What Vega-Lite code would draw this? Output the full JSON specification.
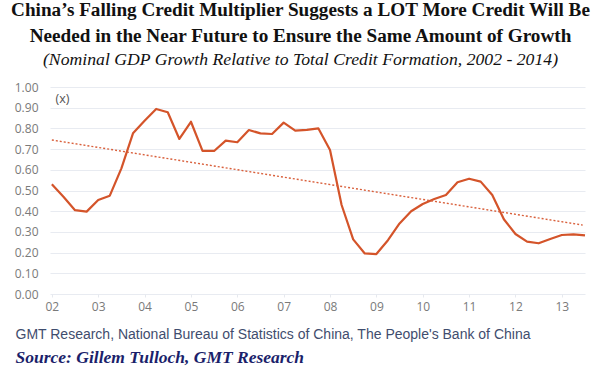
{
  "$schema": "https://vega.github.io/schema/vega-lite/v6.json",
  "width": 535,
  "height": 207,
  "autosize": {"type": "none"},
  "padding": {"left": 50, "top": 87, "right": 15, "bottom": 80},
  "background": "white",
  "title": {
    "text": ["China’s Falling Credit Multiplier Suggests a LOT More Credit Will Be", "Needed in the Near Future to Ensure the Same Amount of Growth"],
    "subtitle": "(Nominal GDP Growth Relative to Total Credit Formation, 2002 - 2014)",
    "anchor": "middle",
    "dx": -17,
    "font": "Liberation Serif",
    "fontSize": 19.2,
    "fontWeight": "bold",
    "lineHeight": 26,
    "color": "#111111",
    "subtitleFont": "Liberation Serif",
    "subtitleFontStyle": "italic",
    "subtitleFontSize": 17.7,
    "subtitleColor": "#111111",
    "subtitlePadding": 5,
    "offset": 12
  },
  "config": {
    "view": {"stroke": null},
    "axis": {"labelFont": "Open Sans", "labelColor": "#7a7a7a", "labelFontSize": 12},
    "axisY": {"labelOverlap": false}
  },
  "data": {
    "values": [
      {"t": 2002.0, "v": 0.53},
      {"t": 2002.25, "v": 0.47},
      {"t": 2002.5, "v": 0.405},
      {"t": 2002.75, "v": 0.398},
      {"t": 2003.0, "v": 0.454},
      {"t": 2003.25, "v": 0.475},
      {"t": 2003.5, "v": 0.607},
      {"t": 2003.75, "v": 0.776},
      {"t": 2004.0, "v": 0.837},
      {"t": 2004.25, "v": 0.894},
      {"t": 2004.5, "v": 0.878},
      {"t": 2004.75, "v": 0.749},
      {"t": 2005.0, "v": 0.832},
      {"t": 2005.25, "v": 0.691},
      {"t": 2005.5, "v": 0.691},
      {"t": 2005.75, "v": 0.741},
      {"t": 2006.0, "v": 0.733},
      {"t": 2006.25, "v": 0.792},
      {"t": 2006.5, "v": 0.776},
      {"t": 2006.75, "v": 0.773},
      {"t": 2007.0, "v": 0.828},
      {"t": 2007.25, "v": 0.789},
      {"t": 2007.5, "v": 0.793},
      {"t": 2007.75, "v": 0.80},
      {"t": 2008.0, "v": 0.696},
      {"t": 2008.25, "v": 0.43},
      {"t": 2008.5, "v": 0.264},
      {"t": 2008.75, "v": 0.196},
      {"t": 2009.0, "v": 0.193},
      {"t": 2009.25, "v": 0.26},
      {"t": 2009.5, "v": 0.341},
      {"t": 2009.75, "v": 0.40},
      {"t": 2010.0, "v": 0.435},
      {"t": 2010.25, "v": 0.459},
      {"t": 2010.5, "v": 0.478},
      {"t": 2010.75, "v": 0.54},
      {"t": 2011.0, "v": 0.557},
      {"t": 2011.25, "v": 0.543},
      {"t": 2011.5, "v": 0.478},
      {"t": 2011.75, "v": 0.361},
      {"t": 2012.0, "v": 0.29},
      {"t": 2012.25, "v": 0.253},
      {"t": 2012.5, "v": 0.245},
      {"t": 2012.75, "v": 0.266},
      {"t": 2013.0, "v": 0.285},
      {"t": 2013.25, "v": 0.288},
      {"t": 2013.5, "v": 0.283}
    ]
  },
  "layer": [
    {
      "mark": {"type": "line", "color": "#d4542a", "strokeWidth": 2.2, "strokeJoin": "round"},
      "encoding": {
        "x": {
          "field": "t", "type": "quantitative",
          "scale": {"domain": [2001.96, 2013.5], "nice": false, "zero": false},
          "axis": {
            "orient": "bottom",
            "values": [2002, 2003, 2004, 2005, 2006, 2007, 2008, 2009, 2010, 2011, 2012, 2013],
            "labelExpr": "datum.value < 2010 ? '0' + (datum.value - 2000) : '' + (datum.value - 2000)",
            "labelFontSize": 12,
            "grid": false, "domain": false, "ticks": true, "tickColor": "#e6e9ee", "tickSize": 3,
            "labelPadding": 4,
            "title": "GMT Research, National Bureau of Statistics of China, The People's Bank of China",
            "titleFont": "Liberation Sans", "titleFontWeight": "normal", "titleFontSize": 14,
            "titleColor": "#3f4d6e", "titleAnchor": "start", "titleAlign": "left",
            "titleX": -35, "titleY": 44, "titleBaseline": "alphabetic"
          }
        },
        "y": {
          "field": "v", "type": "quantitative",
          "scale": {"domain": [0, 1], "nice": false},
          "axis": {
            "values": [0, 0.1, 0.2, 0.3, 0.4, 0.5, 0.6, 0.7, 0.8, 0.9, 1.0],
            "labelOverlap": false, "labelFontSize": 12,
            "format": ".2f", "grid": true, "gridColor": "#e8ebf1", "gridWidth": 1.2,
            "domain": false, "ticks": false, "labelPadding": 12,
            "title": "(x)", "titleAngle": 0, "titleX": 5, "titleY": 15,
            "titleAlign": "left", "titleBaseline": "alphabetic",
            "titleFont": "Open Sans", "titleFontWeight": "normal", "titleFontSize": 12.5, "titleColor": "#555555"
          }
        }
      }
    },
    {
      "data": {"values": [{"t": 2002.0, "v": 0.744}, {"t": 2013.45, "v": 0.333}]},
      "mark": {"type": "line", "color": "#d9603c", "strokeWidth": 1.4, "strokeDash": [2, 2]},
      "encoding": {
        "x": {
          "field": "t", "type": "quantitative",
          "axis": {
            "orient": "bottom",
            "labels": false, "ticks": false, "domain": false, "grid": false,
            "title": "Source: Gillem Tulloch, GMT Research",
            "titleFont": "Liberation Serif", "titleFontWeight": "bold", "titleFontStyle": "italic",
            "titleFontSize": 17.5, "titleColor": "#1b1f6b", "titleAnchor": "start", "titleAlign": "left",
            "titleX": -35, "titleY": 68, "titleBaseline": "alphabetic"
          }
        },
        "y": {"field": "v", "type": "quantitative", "axis": {"values": [0, 0.1, 0.2, 0.3, 0.4, 0.5, 0.6, 0.7, 0.8, 0.9, 1.0], "labelOverlap": false, "labelFontSize": 12}}
      }
    }
  ],
  "resolve": {"axis": {"x": "independent"}}
}
